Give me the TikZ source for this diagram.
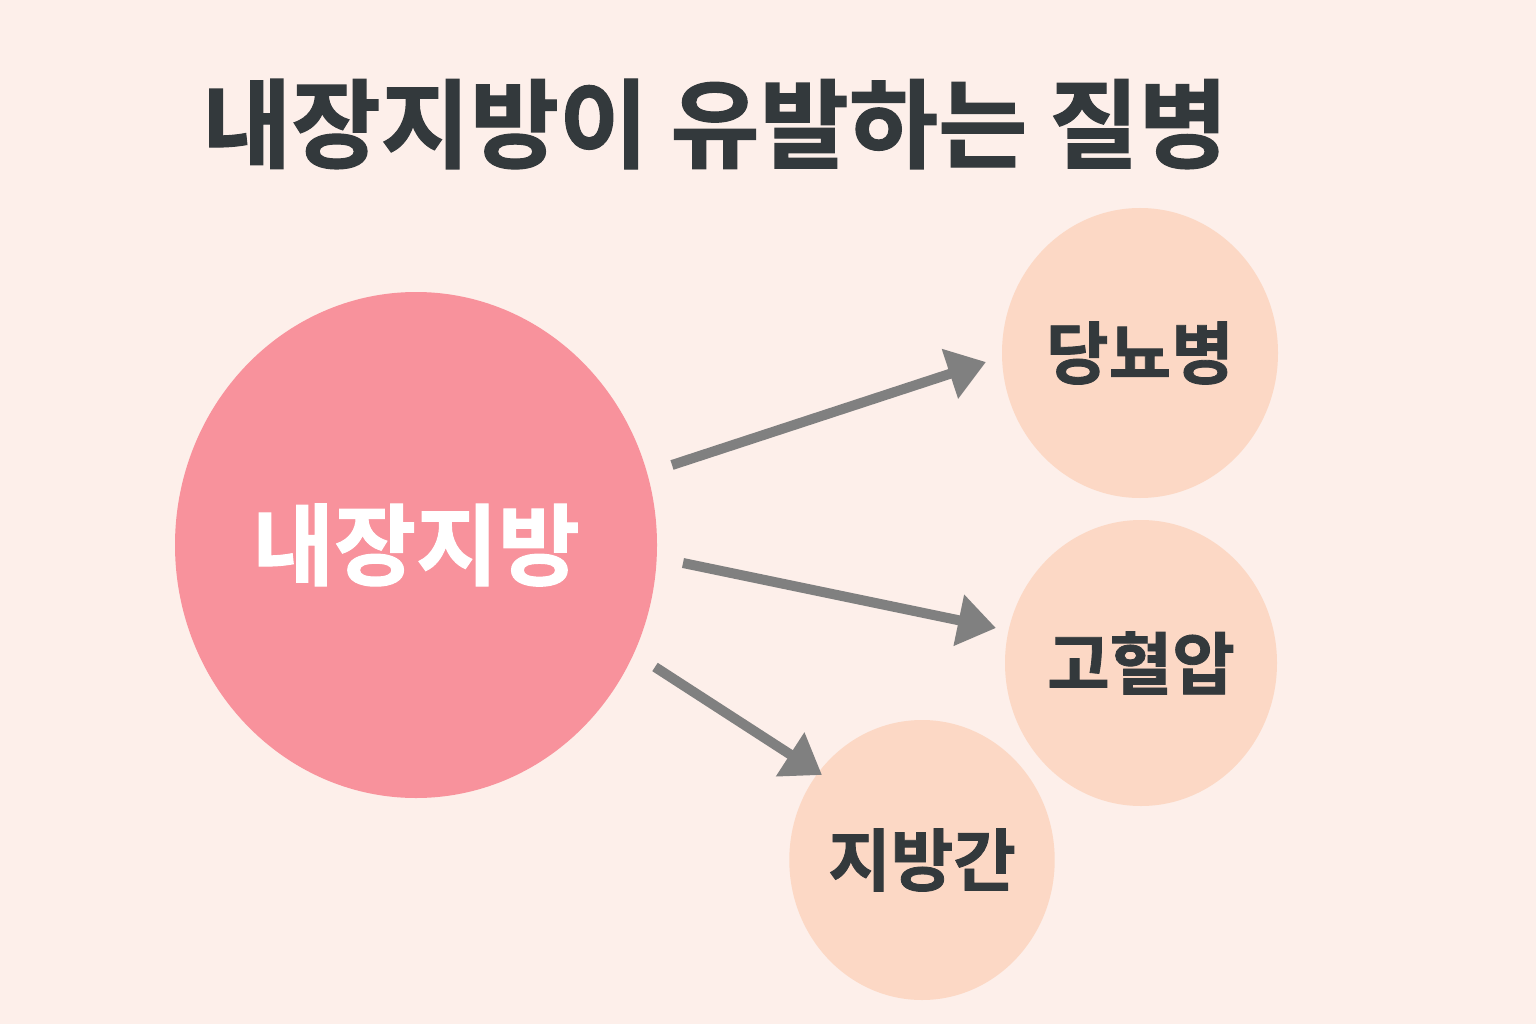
\documentclass[tikz,border=0pt]{standalone}
\usepackage{fontspec}
\newfontfamily\kr{Noto Sans CJK KR}[BoldFont={* Bold}]
\newfontfamily\krheavy{Noto Sans CJK KR}[BoldFont={* Bold},BoldFeatures={FakeBold=1.2}]
\usetikzlibrary{arrows.meta,shapes.geometric}
\definecolor{bg}{HTML}{FDEFEA}
\definecolor{bigc}{HTML}{F8929C}
\definecolor{smallc}{HTML}{FCD8C5}
\definecolor{arrowc}{HTML}{808080}
\definecolor{txt}{HTML}{33393C}
\tikzset{
  disease/.style={ellipse, fill=smallc, inner sep=0pt, text=txt,
     font=\krheavy\bfseries\fontsize{68}{76}\selectfont},
  link/.style={draw=arrowc, line width=10pt, -{Triangle[length=38pt,width=50pt]}}
}
\begin{document}
\begin{tikzpicture}[x=1pt,y=-1pt]
\fill[bg] (0,0) rectangle (1536,1024);
\useasboundingbox (0,0) rectangle (1536,1024);
\node[text=txt, font=\krheavy\bfseries\fontsize{97}{107}\selectfont] (title) at (715,124) {내장지방이 유발하는 질병};
\node[ellipse, fill=bigc, minimum width=482pt, minimum height=506pt, inner sep=0pt, text=white,
  font=\krheavy\bfseries\fontsize{89}{97}\selectfont] (main) at (416,545) {내장지방};
\node[disease, minimum width=276pt, minimum height=290pt] (db) at (1140,353) {당뇨병};
\node[disease, minimum width=272pt, minimum height=286pt] (hbp) at (1141,663) {고혈압};
\node[disease, minimum width=264pt, minimum height=280pt] (liver) at (922,860) {지방간};
\coordinate (s1) at (672,465); \coordinate (e1) at (986,362);
\coordinate (s2) at (683,563); \coordinate (e2) at (996,628);
\coordinate (s3) at (655,667); \coordinate (e3) at (822,775);
\draw[link] (s1) -- (e1);
\draw[link] (s2) -- (e2);
\draw[link] (s3) -- (e3);
\end{tikzpicture}
\end{document}
